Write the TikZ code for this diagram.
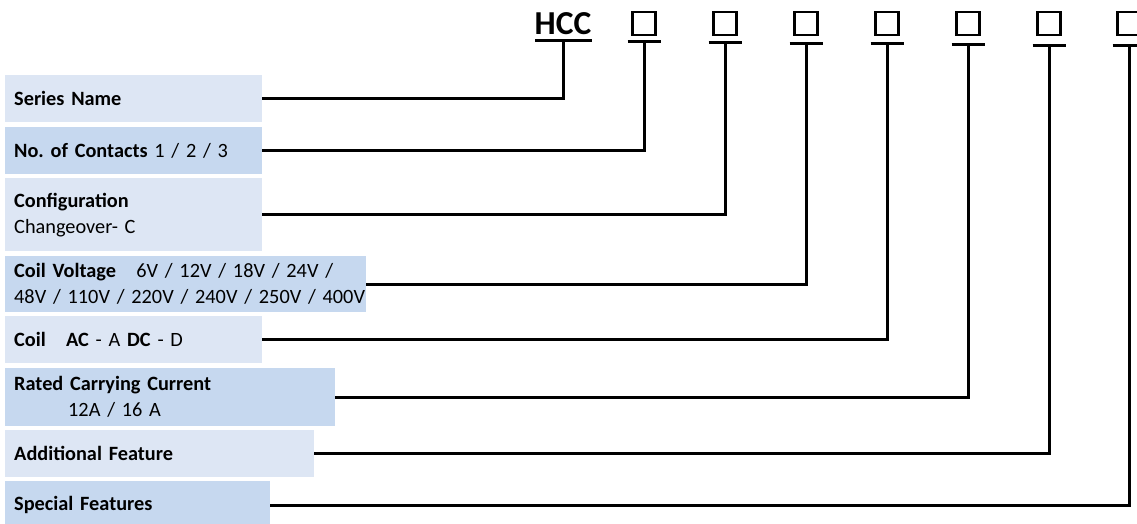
\documentclass[tikz,border=0pt]{standalone}
\usepackage{fontspec}
\setmainfont{Carlito}
\definecolor{boxlight}{RGB}{221,230,244}
\definecolor{boxdark}{RGB}{198,216,239}
\newcommand\myboxfont{\fontsize{20.3}{26}\selectfont\spaceskip=0.8\fontdimen2\font plus 0.1em\relax}
\begin{document}
\begin{tikzpicture}[x=1pt,y=-1pt,
  box/.style={anchor=north west, inner xsep=9pt, inner ysep=0pt, align=left,
    font=\myboxfont, minimum height=#1},
  light/.style={fill=boxlight},
  dark/.style={fill=boxdark},
  sq/.style={draw, line width=2.4pt, minimum size=23pt, inner sep=0pt},
  bar/.style={line width=3pt},
  conn/.style={line width=3pt}]
\useasboundingbox (0,0) rectangle (1137,524);
% boxes
\node[box=47pt, light, text width=239pt] (b1) at (5,75) {\textbf{Series Name}};
\node[box=47pt, dark, text width=239pt] (b2) at (5,127) {\textbf{No.\ of Contacts} 1 / 2 / 3};
\node[box=73pt, light, text width=239pt] (b3) at (5,178) {\textbf{Configuration}\\Changeover- C};
\node[box=56pt, dark, text width=343pt] (b4) at (5,256) {\mbox{\textbf{Coil Voltage}\ \ \ 6V / 12V / 18V / 24V /}\\\mbox{48V / 110V / 220V / 240V / 250V / 400V}};
\node[box=47pt, light, text width=239pt] (b5) at (5,316) {\textbf{Coil}\ \ \ \textbf{AC} - A \textbf{DC} - D};
\node[box=58pt, dark, text width=312pt] (b6) at (5,368) {\textbf{Rated Carrying Current}\\\hspace*{54pt}12A / 16 A};
\node[box=47pt, light, text width=291pt] (b7) at (5,430) {\textbf{Additional Feature}};
\node[box=48pt, dark, text width=247pt] (b8) at (5,481) {\textbf{Special Features}};
% header
\node[font=\fontsize{33.5}{34}\selectfont\bfseries, inner sep=0pt, anchor=base] (hcc) at (563,35) {HCC};
\coordinate (t0) at (563,40.5);
\draw[bar] (535,40.5) -- (592,40.5);
\foreach \i/\x/\y in {1/644/42,2/725/43,3/806/44,4/887/44,5/968/45,6/1049/46,7/1129/46}{
  \node[sq] (s\i) at (\x,23.5) {};
  \coordinate (t\i) at (\x,\y);
  \draw[bar] (\x-16.5,\y) -- (\x+16.5,\y);
}
% connectors
\draw[conn] (b1.east) -| (t0);
\draw[conn] (b2.east) -| (t1);
\draw[conn] (b3.east) -| (t2);
\draw[conn] (b4.east) -| (t3);
\draw[conn] (b5.east) -| (t4);
\draw[conn] (b6.east) -| (t5);
\draw[conn] (b7.east) -| (t6);
\draw[conn] (b8.east) -| (t7);
\end{tikzpicture}
\end{document}
